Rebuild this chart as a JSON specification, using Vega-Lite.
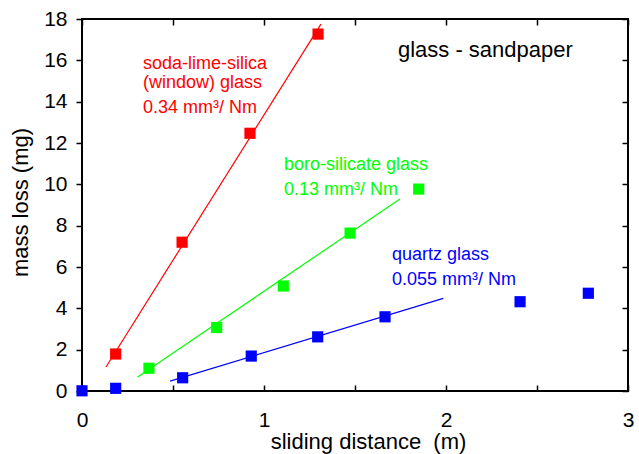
{
  "$schema": "https://vega.github.io/schema/vega-lite/v6.json",
  "width": 546,
  "height": 372,
  "autosize": {"type": "none"},
  "padding": {"left": 82, "top": 19, "right": 11, "bottom": 63},
  "background": "white",
  "config": {
    "view": {"stroke": "black", "strokeWidth": 2},
    "font": "Liberation Sans",
    "axis": {
      "grid": false,
      "domain": false,
      "tickColor": "black",
      "tickWidth": 1.5,
      "labelColor": "black",
      "titleColor": "black",
      "labelFont": "Liberation Sans",
      "titleFont": "Liberation Sans",
      "labelFontSize": 21,
      "titleFontSize": 22,
      "titleFontWeight": "normal"
    }
  },
  "datasets": {
    "fits": [
      {"glass": "soda-lime-silica", "distance": 0.132, "loss": 1.16},
      {"glass": "soda-lime-silica", "distance": 1.313, "loss": 17.75},
      {"glass": "boro-silicate", "distance": 0.306, "loss": 0.68},
      {"glass": "boro-silicate", "distance": 1.747, "loss": 9.29},
      {"glass": "quartz", "distance": 0.484, "loss": 0.48},
      {"glass": "quartz", "distance": 1.985, "loss": 4.48}
    ],
    "measurements": [
      {"glass": "soda-lime-silica", "distance": 0.185, "loss": 1.79},
      {"glass": "soda-lime-silica", "distance": 0.55, "loss": 7.2},
      {"glass": "soda-lime-silica", "distance": 0.923, "loss": 12.47},
      {"glass": "soda-lime-silica", "distance": 1.297, "loss": 17.27},
      {"glass": "boro-silicate", "distance": 0.368, "loss": 1.1},
      {"glass": "boro-silicate", "distance": 0.74, "loss": 3.07},
      {"glass": "boro-silicate", "distance": 1.106, "loss": 5.08},
      {"glass": "boro-silicate", "distance": 1.473, "loss": 7.64},
      {"glass": "boro-silicate", "distance": 1.85, "loss": 9.77},
      {"glass": "quartz", "distance": 0.0, "loss": 0.01},
      {"glass": "quartz", "distance": 0.185, "loss": 0.13},
      {"glass": "quartz", "distance": 0.553, "loss": 0.64},
      {"glass": "quartz", "distance": 0.93, "loss": 1.69},
      {"glass": "quartz", "distance": 1.295, "loss": 2.62},
      {"glass": "quartz", "distance": 1.665, "loss": 3.59},
      {"glass": "quartz", "distance": 2.407, "loss": 4.32},
      {"glass": "quartz", "distance": 2.782, "loss": 4.73}
    ],
    "notes": [
      {"glass": "soda-lime-silica", "distance": 0.335, "loss": 15.56, "text": "soda-lime-silica"},
      {"glass": "soda-lime-silica", "distance": 0.335, "loss": 14.66, "text": "(window) glass"},
      {"glass": "soda-lime-silica", "distance": 0.335, "loss": 13.45, "text": "0.34 mm³/ Nm"},
      {"glass": "boro-silicate", "distance": 1.11, "loss": 10.69, "text": "boro-silicate glass"},
      {"glass": "boro-silicate", "distance": 1.11, "loss": 9.48, "text": "0.13 mm³/ Nm"},
      {"glass": "quartz", "distance": 1.703, "loss": 6.34, "text": "quartz glass"},
      {"glass": "quartz", "distance": 1.703, "loss": 5.13, "text": "0.055 mm³/ Nm"}
    ],
    "heading": [
      {"distance": 1.736, "loss": 16.18, "text": "glass - sandpaper"}
    ]
  },
  "layer": [
    {
      "data": {"name": "fits"},
      "mark": {"type": "line", "strokeWidth": 1.2},
      "encoding": {
        "x": {
          "field": "distance", "type": "quantitative",
          "scale": {"domain": [0, 3], "nice": false, "zero": false},
          "axis": {
            "orient": "bottom",
            "values": [0, 0.5, 1, 1.5, 2, 2.5, 3],
            "labelExpr": "datum.value % 1 === 0 ? format(datum.value, 'd') : ''",
            "tickSize": -6,
            "labelPadding": 24,
            "labelFlush": false,
            "labelOverlap": false,
            "title": "sliding distance\u00a0 (m)",
            "titleX": 286,
            "titleY": 57,
            "titleBaseline": "alphabetic",
            "titleAnchor": "middle",
            "titleAlign": "center"
          }
        },
        "y": {
          "field": "loss", "type": "quantitative",
          "scale": {"domain": [0, 18], "nice": false, "zero": false},
          "axis": {
            "orient": "left",
            "values": [0, 2, 4, 6, 8, 10, 12, 14, 16, 18],
            "tickSize": 6,
            "labelPadding": 9,
            "labelFlush": false,
            "labelOverlap": false,
            "title": "mass loss (mg)",
            "titleAngle": 270,
            "titleX": -55,
            "titleY": 183,
            "titleBaseline": "alphabetic",
            "titleAlign": "center"
          }
        },
        "color": {
          "field": "glass", "type": "nominal",
          "scale": {"domain": ["soda-lime-silica", "boro-silicate", "quartz"], "range": ["#ff0000", "#00ff00", "#0000ff"]},
          "legend": null
        },
        "detail": {"field": "glass"}
      }
    },
    {
      "data": {"name": "measurements"},
      "mark": {"type": "point", "shape": "square", "filled": true, "opacity": 1, "size": 125},
      "encoding": {
        "x": {
          "field": "distance", "type": "quantitative",
          "scale": {"domain": [0, 3], "nice": false, "zero": false},
          "axis": {
            "orient": "top",
            "values": [0, 0.5, 1, 1.5, 2, 2.5, 3],
            "tickSize": -6,
            "labels": false,
            "title": null
          }
        },
        "y": {
          "field": "loss", "type": "quantitative",
          "scale": {"domain": [0, 18], "nice": false, "zero": false},
          "axis": {
            "orient": "right",
            "values": [0, 2, 4, 6, 8, 10, 12, 14, 16, 18],
            "tickSize": -6,
            "labels": false,
            "title": null
          }
        },
        "color": {"field": "glass", "type": "nominal", "legend": null}
      }
    },
    {
      "data": {"name": "notes"},
      "mark": {"type": "text", "align": "left", "baseline": "alphabetic", "fontSize": 18, "font": "Liberation Sans"},
      "encoding": {
        "x": {"field": "distance", "type": "quantitative", "axis": null},
        "y": {"field": "loss", "type": "quantitative", "axis": null},
        "text": {"field": "text"},
        "color": {"field": "glass", "type": "nominal", "legend": null}
      }
    },
    {
      "data": {"name": "heading"},
      "mark": {"type": "text", "align": "left", "baseline": "alphabetic", "fontSize": 22, "font": "Liberation Sans", "color": "black"},
      "encoding": {
        "x": {"field": "distance", "type": "quantitative", "axis": null},
        "y": {"field": "loss", "type": "quantitative", "axis": null},
        "text": {"field": "text"}
      }
    }
  ],
  "resolve": {"axis": {"x": "independent", "y": "independent"}}
}
